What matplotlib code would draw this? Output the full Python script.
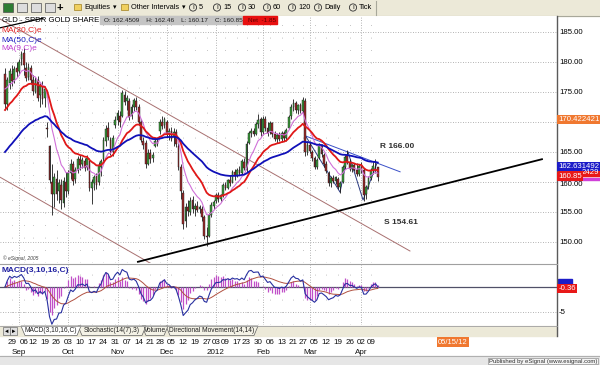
import numpy as np
import pandas as pd
import matplotlib
matplotlib.use('Agg')
import matplotlib.pyplot as plt
from matplotlib.patches import Rectangle, Circle, Polygon
from matplotlib.transforms import blended_transform_factory as blend

plt.rcParams['font.family'] = ['Liberation Sans', 'DejaVu Sans']

# ---- data (GLD daily, 24 Aug 2011 .. 12 Apr 2012) ----
holidays = ['2011-09-05', '2011-11-24', '2011-12-26', '2012-01-02',
            '2012-01-16', '2012-02-20', '2012-04-06']
dates = pd.bdate_range('2011-08-24', '2012-04-12')
dates = dates[~dates.isin(pd.to_datetime(holidays))]

opens = [178, 173, 176.5, 178, 177, 179, 178.5, 180.5, 181.5, 179,
         177.5, 179, 177, 175, 177, 174.5, 176, 174, 169, 166,
         160, 158, 160.5, 158.5, 159.5, 156.5, 160, 158.5, 161.5, 163,
         160.5, 162, 163.8, 163, 163.5, 162.5, 163.5, 159, 159.8, 161,
         160, 162.5, 163.8, 166.8, 169, 167, 165, 169.5, 170.3, 171,
         171, 174.5, 173.5, 173.5, 171, 172.5, 173.5, 172.5, 170, 166.8,
         166.5, 163, 164.8, 164, 166, 166.8, 168.5, 170, 169.5, 170,
         168, 168.5, 167.5, 168.3, 166, 162.5, 158.2, 153.5, 155.8, 155,
         157, 155.5, 156, 155.5, 155.5, 154.2, 151, 151, 154.5, 156,
         156.8, 157.8, 157.2, 157.8, 159.5, 159, 160.3, 160, 161.6, 161,
         162, 161.5, 163.3, 162, 166.5, 168.2, 168.5, 168, 169.6, 170.5,
         168.3, 170.5, 169, 168.3, 169.8, 168, 167.2, 167.8, 167.2, 168.2,
         167.3, 169, 171, 172.5, 173.2, 172, 172.8, 171.8, 173.5, 165,
         166.2, 165, 164, 162.5, 164, 166.2, 164.5, 163, 161.5, 159.8,
         160.6, 160.2, 160.5, 159.2, 160, 162.5, 164.5, 163.4, 162.2, 162.8,
         162, 161.4, 162.8, 162, 158, 159.2, 160.6, 162, 162.6, 162.45]
highs = [179, 177.5, 179, 179.5, 179.3, 180, 180.5, 181.8, 182.3, 180,
         179.8, 179.5, 177.8, 177.5, 177.6, 176.5, 176.8, 176, 170, 166.2,
         163, 161.5, 162, 160.5, 160.5, 160.8, 161.6, 162, 163.8, 163.5,
         162.5, 164.3, 164.5, 164.2, 164, 164.5, 164, 160.5, 161.2, 161.5,
         163.3, 163.8, 167.5, 169.5, 170, 167.5, 167.8, 171, 172, 171.8,
         175.3, 175.2, 174.5, 174, 173, 174, 174.2, 173, 170.5, 167.5,
         167, 165.5, 165.5, 165, 167.3, 167.5, 170.5, 171, 170.8, 170.3,
         169, 169.2, 169, 168.8, 166.5, 163, 158.6, 156.5, 157, 157.5,
         157.7, 156.5, 156.8, 156.2, 156, 154.5, 152.5, 154.9, 156.6, 157,
         158.2, 158.3, 158, 159.8, 160, 160.5, 161.2, 162, 162.2, 162.4,
         162.6, 163.8, 164, 166.8, 168.5, 169, 169, 170, 171.3, 170.8,
         171, 171, 170, 170.2, 170, 168.5, 168.2, 168.3, 168.5, 168.5,
         169, 171.2, 173, 173.8, 173.5, 173, 173.2, 174.1, 174, 166.8,
         166.8, 165.3, 164.3, 164, 166.5, 166.4, 164.8, 163.5, 161.8, 161,
         161.2, 161, 160.8, 160.2, 162.8, 164.5, 165.4, 163.8, 163, 163.2,
         163.2, 163, 163.4, 162.3, 159.5, 161, 162.3, 163.5, 163.8, 162.46]
lows = [172, 172, 175.5, 176, 176.5, 177.5, 178, 179.5, 177.8, 176.8,
        177, 176.5, 174.5, 174.8, 173.5, 172.5, 173, 172.5, 167.5, 159.8,
        154.5, 155.8, 157, 156.5, 155.5, 155.8, 157.5, 158, 160.5, 159.5,
        159.8, 161.5, 162, 162.3, 161.8, 162, 158.5, 156.3, 158.7, 158.8,
        159.5, 161, 163.5, 166, 167, 164.5, 164.3, 169, 169.5, 169.2,
        170.8, 172.8, 172, 170.3, 170.5, 171.8, 172, 169.5, 166.6, 165.5,
        162.4, 162.8, 163.2, 163.3, 165.8, 166, 168, 168.8, 169, 167.5,
        167, 166.8, 166, 165.8, 162, 157.1, 152.1, 152.5, 154.3, 154.5,
        154.8, 154.3, 155, 154.8, 153.5, 150.5, 149.3, 150.8, 154.2, 155.5,
        156.5, 156.6, 156.8, 157.5, 158.6, 158.8, 159.3, 159.8, 160.4, 160.8,
        161.2, 161.3, 162, 161.6, 166.3, 167.5, 167.6, 167.8, 169, 167.7,
        168, 168.5, 167.7, 168, 167.5, 166.8, 166.5, 166.8, 166.6, 166.8,
        166.8, 168.8, 170.5, 171.8, 171.5, 171.3, 171.5, 171.5, 164.3, 164.5,
        164.8, 163.5, 162.1, 162.2, 163.8, 164.2, 162.5, 161.5, 159.3, 159.2,
        159.8, 159.6, 158.8, 158.2, 159.8, 162.2, 163, 161.8, 161.6, 161.8,
        161, 161, 161.5, 156.8, 157.2, 158.8, 160.3, 161.3, 161.5, 160.17]
closes = [173, 177, 178.5, 176.8, 178.9, 178.4, 180, 181.3, 179.5, 177.3,
          179.2, 177, 175.2, 177, 174, 176, 173.8, 175.5, 168.8, 160.3,
          158, 160.8, 158, 159.8, 157, 160.2, 158.5, 161.5, 163, 160.2,
          162, 163.9, 162.8, 163.6, 162.4, 164, 159, 160, 160.8, 159.5,
          162.8, 163.5, 167, 168.8, 167.5, 165, 167.3, 170.3, 171.5, 170,
          174.8, 173.3, 174, 170.8, 172.5, 173.6, 172.5, 170, 167, 166.2,
          163, 164.8, 163.8, 164.5, 166.8, 166.4, 170, 169.3, 170.5, 168,
          168.5, 167.2, 168.3, 166.3, 162.5, 158.5, 153, 155.8, 155.2, 156.8,
          155.5, 156, 155.4, 155.8, 154.2, 151, 150.8, 154.5, 156.2, 156.6,
          157.8, 157.2, 157.8, 159.5, 159, 160.3, 159.8, 161.6, 161, 162,
          161.5, 163.5, 162.4, 166.4, 168.2, 168.5, 168, 169.6, 170.4, 168.3,
          170.5, 169, 168.2, 169.8, 168, 167.2, 167.8, 167.2, 168.2, 167.3,
          168.7, 170.8, 172.5, 173.2, 172, 172.8, 171.8, 173.6, 165, 166.2,
          165.2, 164, 162.5, 163.6, 166.2, 164.6, 163, 161.8, 159.8, 160.6,
          160.2, 160.8, 159.2, 159.8, 162.5, 164.2, 163.4, 162.2, 162.8, 162,
          161.4, 162.6, 162, 157.8, 159.2, 160.6, 162, 162.6, 162.7, 160.85]

# moving average starting levels read at the left edge of the chart
ema_seed = {9: 175.5, 20: 172.0, 50: 165.0}

# drawn studies, (bar, price) anchors
upper_channel = [(-4.5, 187.7), (172.7, 148.5)]
lower_channel = [(-2.1, 160.8), (61.8, 146.5)]
support_line = [(56.7, 146.7), (229.0, 163.8)]
resist_line = [(128.0, 167.7), (168.5, 161.7)]
zigzag = [(128.0, 167.8), (142.9, 158.3), (146.3, 165.0), (152.7, 157.0), (158.7, 163.2)]
top_line = [(-2.1, 185.7), (16.2, 187.3)]

price_ticks = [150, 155, 160, 165, 175, 180, 185]   # 170.00 sits under the orange box
value_boxes = [(170.42, '170.422421', '#F07830'), (162.63, '162.631492', '#1C1CC8')]


def ema(values, n, start):
    a = 2.0 / (n + 1)
    out = [start]
    for v in values[1:]:
        out.append(out[-1] + a * (v - out[-1]))
    return np.array(out)


c = np.array(closes)
k = np.arange(len(c))
ma9 = ema(c, 9, ema_seed[9])
ma20 = ema(c, 20, ema_seed[20])
ma50 = ema(c, 50, ema_seed[50])
macd = ema(c, 3, c[0]) - ema(c, 10, c[0])
signal = ema(macd, 16, 0.0)
hist = macd - signal

W, H = 600, 365
fig = plt.figure(figsize=(6, 3.65), dpi=100)
bg = fig.add_axes([0, 0, 1, 1], zorder=0)
bg.set_xlim(0, W); bg.set_ylim(H, 0); bg.axis('off')
ax = fig.add_axes([0, 1 - 263 / H, 557 / W, 247 / H], zorder=1)
ax2 = fig.add_axes([0, 1 - 325 / H, 557 / W, 61 / H], zorder=1)
ui = fig.add_axes([0, 0, 1, 1], zorder=5)
ui.set_xlim(0, W); ui.set_ylim(H, 0); ui.axis('off'); ui.patch.set_alpha(0)

x0, dx = 4.965, 2.345   # pixel of bar 0, pixels per bar
xl = (-x0 / dx, (557 - x0) / dx)
for a in (ax, ax2):
    a.set_xlim(*xl)
    a.set_xticks([]); a.set_yticks([])
    for s in a.spines.values():
        s.set_visible(False)
ax.set_ylim(146.5, 187.67)
ax2.set_ylim(-7.6, 4.6)

# backgrounds
bg.add_patch(Rectangle((0, 0), W, 16, color='#ECE9D8'))
bg.add_patch(Rectangle((0, 326), 557, 10, color='#ECE9D8'))
bg.add_patch(Rectangle((0, 356), W, 9, color='#E6E6E6'))
bg.plot([0, W], [15.5, 15.5], color='#A8A89A', lw=0.8)
bg.plot([0, W], [356, 356], color='#B0B0B0', lw=0.8)

# grid
month_starts = [i for i in range(1, len(dates)) if dates[i].month != dates[i - 1].month]
week_starts = [i for i in range(1, len(dates)) if dates[i].weekday() < dates[i - 1].weekday()]
for a in (ax, ax2):
    for i in month_starts:
        a.axvline(i, color='#9A9A9A', lw=0.6, ls=(0, (1, 2)), zorder=0)
    for i in week_starts:
        if i not in month_starts:
            a.axvline(i, color='#B0B0B0', lw=0.6, ls=(0, (1, 14)), zorder=0)
for p in price_ticks + [170]:
    ax.axhline(p, color='#9A9A9A', lw=0.6, ls=(0, (1, 2)), zorder=0)
ax2.axhline(-5, color='#9A9A9A', lw=0.6, ls=(0, (1, 2)), zorder=0)
ax2.axhline(0, color='#505068', lw=0.9, zorder=1)

# MA legend (behind bars)
for j, (t, col) in enumerate([('MA(20,C)e', '#E02020'), ('MA(50,C)e', '#2020C0'),
                              ('MA(9,C)e', '#C040D0')]):
    ui.text(1, 31 + 9 * j, t, color=col, fontsize=6, va='center', zorder=1)
ui.text(2, 20, 'GLD - SPDR GOLD SHARE', fontsize=5.6, va='center', color='black')
ui.add_patch(Rectangle((100, 16), 143, 8, color='#C4C4C4'))
ui.text(104, 20, 'O: 162.4509    H: 162.46    L: 160.17    C: 160.85',
        fontsize=4.6, va='center', color='#202020')
ui.add_patch(Rectangle((243, 16), 34, 8, color='#E81010'))
ui.text(248, 20, 'Net  -1.85', fontsize=4.6, va='center', color='#600000')
ui.text(3, 258, '\u00a9 eSignal, 2005', fontsize=3.6, style='italic', color='#404040', va='center')

# channel / trend lines
for ln, col, lw in [(upper_channel, '#A87070', 0.7), (lower_channel, '#A87070', 0.7),
                    (support_line, 'black', 1.3), (resist_line, '#3A50C8', 0.7),
                    (zigzag, '#2A3A80', 0.7), (top_line, 'black', 0.9)]:
    xs, ys = zip(*ln)
    ax.plot(xs, ys, color=col, lw=lw, zorder=2)

# candles
o = np.array(opens); h = np.array(highs); lo = np.array(lows)
up = c >= o
ax.vlines(k, lo, h, color='#1A1A1A', lw=0.6, zorder=3)
ax.bar(k, c - o, bottom=o, width=0.75, color=np.where(up, '#3A9A3A', '#9A2828'),
       edgecolor='#1A1A1A', linewidth=0.3, zorder=4)
ax.plot(k, ma9, color='#D070D8', lw=0.8, zorder=5)
ax.plot(k, ma20, color='#E01818', lw=1.3, zorder=5)
ax.plot(k, ma50, color='#1010B8', lw=1.3, zorder=5)

ax.text(160, 166.0, 'R 166.00', fontsize=6, fontweight='bold', color='#303030', va='center')
ax.text(161.5, 153.3, 'S 154.61', fontsize=6, fontweight='bold', color='#303030', va='center')

# MACD panel
ax2.vlines(k, 0, hist, color='#C050C8', lw=0.9, zorder=2)
ax2.plot(k, signal, color='#B05040', lw=0.7, zorder=3)
ax2.plot(k, macd, color='#2830A0', lw=0.8, zorder=3)
ui.text(2, 270, 'MACD(3,10,16,C)', fontsize=6, color='#2020A0', fontweight='bold', va='center')

# right axis
ui.plot([557, 557], [16, 336], color='#5A5A5A', lw=1)
ui.plot([0, 557], [263.5, 263.5], color='#A0A0A0', lw=0.8)
ui.plot([0, 557], [325.5, 325.5], color='#A0A0A0', lw=0.6)
tr_p = blend(ui.transData, ax.transData)
for p in price_ticks:
    ui.text(559, p - (0.35 if p == 160 else 0), f'{p:.2f}', transform=tr_p,
            fontsize=5.6, va='center', color='black')
for p, t, col in value_boxes:
    ui.text(558.5, p, t, transform=tr_p, fontsize=5.6, va='center', color='white',
            bbox=dict(boxstyle='square,pad=0.15', fc=col, ec='none'))
# overlapping EMA value boxes near the last close
ui.add_patch(Rectangle((558, 160.3), 42, 0.4, color='#D040D8', transform=tr_p))
ui.add_patch(Rectangle((558, 160.95), 42, 1.25, color='#E81818', transform=tr_p))
ui.text(599, 161.58, '2429', transform=tr_p, fontsize=5.6, va='center', ha='right', color='white')
ui.text(558.5, 160.95, '160.85', transform=tr_p, fontsize=5.6, va='center', color='white',
        bbox=dict(boxstyle='square,pad=0.15', fc='#E81818', ec='none'))
tr_m = blend(ui.transData, ax2.transData)
ui.text(559, -5, '-5', transform=tr_m, fontsize=5.6, va='center')
ui.add_patch(Rectangle((558, 0.4), 14, 1.3, color='#1C1CC8', transform=tr_m))
ui.text(558.5, -0.36, '-0.36', transform=tr_m, fontsize=5.6, va='center', color='white',
        bbox=dict(boxstyle='square,pad=0.15', fc='#E81818', ec='none'))

# toolbar
for xi, col in [(3, '#2E7D32'), (17, '#DDDDDD'), (31, '#DDDDDD'), (45, '#DDDDDD')]:
    ui.add_patch(Rectangle((xi, 3), 10, 9, fc=col, ec='#505050', lw=0.5))
ui.text(60, 7.5, '+', fontsize=8, fontweight='bold', va='center', ha='center')
for xi, t, xa in [(74, 'Equities', 113), (121, 'Other Intervals', 182)]:
    ui.add_patch(Rectangle((xi, 4), 7, 6, fc='#F0D060', ec='#A08020', lw=0.5))
    ui.text(xi + 10, 7.5, t, fontsize=5.3, va='center')
    ui.text(xa, 7.5, '\u25be', fontsize=5, va='center')
for xi, t in [(193, '5'), (217, '15'), (242, '30'), (267, '60'), (292, '120'),
              (318, 'Daily'), (353, 'Tick')]:
    ui.add_patch(Circle((xi, 7.5), 3.6, fc='none', ec='#303030', lw=0.6))
    ui.text(xi, 7.6, 'I', fontsize=4.5, ha='center', va='center')
    ui.text(xi + 6, 7.5, t, fontsize=5.3, va='center')
ui.plot([376, 376], [1, 15], color='#A8A89A', lw=0.8)

# tabs
ui.add_patch(Rectangle((3, 327), 7, 8, fc='#E0E0E0', ec='#707070', lw=0.5))
ui.add_patch(Rectangle((10, 327), 7, 8, fc='#E0E0E0', ec='#707070', lw=0.5))
ui.text(6.5, 331, '\u25c4', fontsize=4, ha='center', va='center')
ui.text(13.5, 331, '\u25ba', fontsize=4, ha='center', va='center')
for x1, x2, t, fc in [(166, 258, 'Directional Movement(14,14)', '#F4F2E6'),
                      (142, 168, 'Volume', '#F4F2E6'),
                      (78, 146, 'Stochastic(14(7),3)', '#F4F2E6'),
                      (21, 81, 'MACD(3,10,16,C)', 'white')]:
    ui.add_patch(Polygon([(x1, 326), (x1 + 4, 335.5), (x2 - 4, 335.5), (x2, 326)],
                         closed=True, fc=fc, ec='#606060', lw=0.5))
    ui.text((x1 + x2) / 2, 331, t, fontsize=4.8, ha='center', va='center', color='#202020')

# date axis
tr_d = blend(ax2.transData, ui.transData)
labels = [i for i in [3] + week_starts if dates[i] >= pd.Timestamp('2011-08-29')]
for i in sorted(set(labels)):
    ui.text(i, 342, dates[i].strftime('%d'), transform=tr_d, fontsize=5.8,
            ha='center', va='center', color='#101010')
for i in month_starts:
    t = str(dates[i].year) if dates[i].month == 1 else dates[i].strftime('%b')
    ui.text(i, 352, t, transform=tr_d, fontsize=5.8, ha='center', va='center', color='#101010')
ui.text(453, 342, '05/15/12', fontsize=5.5, ha='center', va='center', color='white',
        bbox=dict(boxstyle='square,pad=0.2', fc='#F07830', ec='none'))
ui.text(597, 361, 'Published by eSignal (www.esignal.com)', fontsize=4.3, ha='right',
        va='center', color='#303030',
        bbox=dict(boxstyle='square,pad=0.15', fc='#F4F4F4', ec='#909090', lw=0.5))

fig.savefig('out.png', dpi=100)
